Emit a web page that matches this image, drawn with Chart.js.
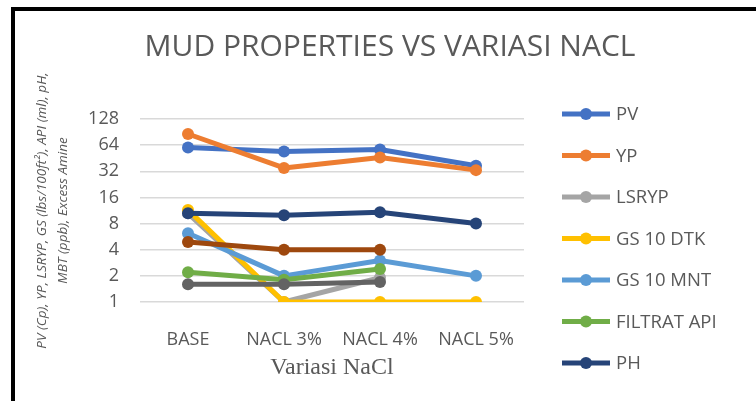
<!DOCTYPE html>
<html>
<head>
  <title>Mud Properties vs Variasi NaCl</title>
  <script src="https://cdn.jsdelivr.net/npm/chart.js"></script>
  <style>
    body { margin: 0; background: #fff; }
    #wrap { position: relative; width: 756px; height: 401px; }
    #frame {
      position: absolute; left: 11px; top: 7px; right: 0; bottom: 0;
      border-top: 4px solid #000; border-left: 4px solid #000;
      pointer-events: none;
    }
  </style>
</head>
<body>
  <div id="wrap">
    <canvas id="chart"></canvas>
    <div id="frame"></div>
  </div>

  <script>
    // data (log2 axis)
    var categories = ["BASE", "NACL 3%", "NACL 4%", "NACL 5%"];
    var pv        = [60, 54, 57, 37];
    var yp        = [86, 35, 46, 33];
    var lsryp     = [10.5, 1, 1.9, null];
    var gs10dtk   = [11.5, 1, 1, 1];
    var gs10mnt   = [6.2, 2, 3, 2];
    var filtrat   = [2.2, 1.8, 2.4, null];
    var ph        = [10.5, 10, 10.8, 8];
    var series8   = [4.9, 4, 4, null];   // not shown in legend
    var series9   = [1.6, 1.6, 1.7, null];
    var yTicks    = [1, 2, 4, 8, 16, 32, 64, 128];

    var names  = ["PV", "YP", "LSRYP", "GS 10 DTK", "GS 10 MNT", "FILTRAT API", "PH", "Series8", "Series9"];
    var values = [pv, yp, lsryp, gs10dtk, gs10mnt, filtrat, ph, series8, series9];
    var colors = ["#4472C4", "#ED7D31", "#A5A5A5", "#FFC000", "#5B9BD5", "#70AD47", "#264478", "#9E480E", "#636363"];
    var legendCount = 7;

    Chart.defaults.font.family = "'Open Sans', sans-serif";
    Chart.defaults.color = "#595959";

    var datasets = values.map(function (v, i) {
      return {
        label: names[i],
        data: v,
        borderColor: colors[i],
        backgroundColor: colors[i],
        pointBackgroundColor: colors[i],
        pointBorderColor: colors[i],
        borderWidth: 5,
        pointRadius: 6,
        pointBorderWidth: 0,
        borderJoinStyle: "round",
        borderCapStyle: "round",
        tension: 0,
        spanGaps: false,
        order: values.length - i   // later series on top, like Excel
      };
    });

    // legend on the right, line + marker icons
    var sideLegend = {
      id: "sideLegend",
      afterDraw: function (chart) {
        var ctx = chart.ctx;
        var x0 = chart.chartArea.right + 38;
        ctx.save();
        ctx.font = "18.5px 'Open Sans', sans-serif";
        ctx.textBaseline = "middle";
        for (var i = 0; i < legendCount; i++) {
          var ds = chart.data.datasets[i];
          var y = 114 + i * 41.5;
          ctx.strokeStyle = ds.borderColor;
          ctx.lineWidth = 5;
          ctx.beginPath();
          ctx.moveTo(x0, y);
          ctx.lineTo(x0 + 48, y);
          ctx.stroke();
          ctx.fillStyle = ds.borderColor;
          ctx.beginPath();
          ctx.arc(x0 + 24, y, 6, 0, Math.PI * 2);
          ctx.fill();
          ctx.fillStyle = "#595959";
          ctx.fillText(ds.label, x0 + 54, y + 1);
        }
        ctx.restore();
      }
    };

    var ctx = document.getElementById("chart").getContext("2d");
    var chart = new Chart(ctx, {
      type: "line",
      data: { labels: categories, datasets: datasets },
      plugins: [sideLegend],
      options: {
        responsive: true,
        maintainAspectRatio: false,
        animation: false,
        layout: { padding: { left: 24, right: 0, top: 0, bottom: 0 } },
        plugins: {
          legend: { display: false },
          tooltip: { enabled: false },
          title: {
            display: true,
            text: "MUD PROPERTIES VS VARIASI NACL",
            color: "#595959",
            font: { size: 30, weight: "normal" },
            padding: { top: 29, bottom: 54 }
          }
        },
        scales: {
          x: {
            type: "category",
            offset: true,
            grid: { display: false },
            border: { display: false },
            ticks: { font: { size: 18 }, color: "#595959", padding: 19 },
            title: {
              display: true,
              text: "Variasi NaCl",
              color: "#595959",
              font: { family: "'Liberation Serif', 'Times New Roman', serif", size: 24 },
              padding: { top: 0, bottom: 19 }
            },
            afterFit: function (s) { s.height = 99; }
          },
          y: {
            type: "logarithmic",
            min: 1,
            max: 128,
            afterBuildTicks: function (s) {
              s.ticks = yTicks.map(function (v) { return { value: v }; });
            },
            grid: { color: "#D9D9D9", lineWidth: 1.5, drawTicks: false },
            border: { display: false },
            ticks: {
              font: { size: 18 },
              color: "#595959",
              padding: 21,
              callback: function (v) { return v; }
            },
            title: {
              display: true,
              text: ["PV (Cp), YP, LSRYP, GS (lbs/100ft\u00B2), API (ml), pH,", "MBT (ppb), Excess Amine"],
              color: "#595959",
              font: { size: 13.5, style: "italic", lineHeight: 1.55 },
              padding: { top: 8, bottom: 0 }
            },
            afterFit: function (s) { s.width = 116; }
          },
          pad: {
            axis: "y",
            position: "right",
            display: true,
            grid: { display: false },
            border: { display: false },
            ticks: { display: false },
            afterFit: function (s) { s.width = 232; }
          }
        }
      }
    });
  </script>
</body>
</html>
